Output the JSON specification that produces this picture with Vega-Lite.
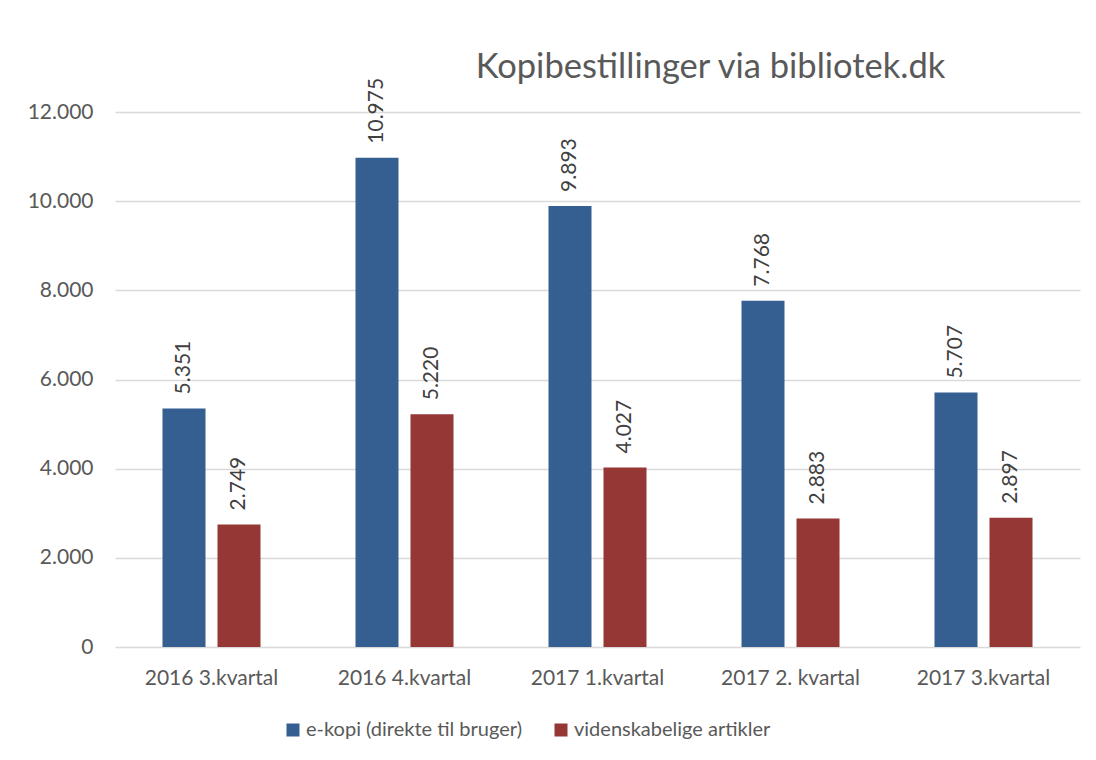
{
  "$schema": "https://vega.github.io/schema/vega-lite/v6.json",
  "width": 965,
  "height": 535,
  "autosize": "none",
  "padding": {"left": 115, "top": 112, "right": 16, "bottom": 113},
  "background": "white",
  "config": {
    "font": "Lato",
    "locale": {"number": {"decimal": ",", "thousands": ".", "grouping": [3], "currency": ["", " kr."]}},
    "view": {"stroke": null},
    "axis": {"labelFont": "Lato", "labelColor": "#595959", "labelFontSize": 21}
  },
  "title": {
    "text": "Kopibestillinger via bibliotek.dk",
    "font": "Lato",
    "fontSize": 34.5,
    "fontWeight": "normal",
    "color": "#595959",
    "anchor": "middle",
    "dx": 113,
    "offset": -8
  },
  "data": {
    "values": [
      {"kvartal": "2016 3.kvartal", "serie": "e-kopi (direkte til bruger)", "value": 5351},
      {"kvartal": "2016 3.kvartal", "serie": "videnskabelige artikler", "value": 2749},
      {"kvartal": "2016 4.kvartal", "serie": "e-kopi (direkte til bruger)", "value": 10975},
      {"kvartal": "2016 4.kvartal", "serie": "videnskabelige artikler", "value": 5220},
      {"kvartal": "2017 1.kvartal", "serie": "e-kopi (direkte til bruger)", "value": 9893},
      {"kvartal": "2017 1.kvartal", "serie": "videnskabelige artikler", "value": 4027},
      {"kvartal": "2017 2. kvartal", "serie": "e-kopi (direkte til bruger)", "value": 7768},
      {"kvartal": "2017 2. kvartal", "serie": "videnskabelige artikler", "value": 2883},
      {"kvartal": "2017 3.kvartal", "serie": "e-kopi (direkte til bruger)", "value": 5707},
      {"kvartal": "2017 3.kvartal", "serie": "videnskabelige artikler", "value": 2897}
    ]
  },
  "encoding": {
    "x": {
      "field": "kvartal",
      "type": "nominal",
      "sort": null,
      "scale": {"paddingInner": 0.43, "paddingOuter": 0.215},
      "axis": {"title": null, "labelAngle": 0, "ticks": false, "domain": false, "labelPadding": 20, "labelBaseline": "top"}
    },
    "xOffset": {
      "field": "serie",
      "type": "nominal",
      "sort": null,
      "scale": {"paddingInner": 0.218, "paddingOuter": 0.109}
    },
    "y": {
      "field": "value",
      "type": "quantitative",
      "scale": {"domain": [0, 12000], "nice": false},
      "axis": {
        "title": null,
        "values": [0, 2000, 4000, 6000, 8000, 10000, 12000],
        "format": ",d",
        "ticks": false,
        "domain": false,
        "labelPadding": 22,
        "gridColor": "#d9d9d9",
        "gridWidth": 1.5
      }
    }
  },
  "layer": [
    {
      "mark": {"type": "bar"},
      "encoding": {
        "color": {
          "field": "serie",
          "type": "nominal",
          "sort": null,
          "scale": {"domain": ["e-kopi (direkte til bruger)", "videnskabelige artikler"], "range": ["#355f91", "#953735"]},
          "legend": {
            "title": null,
            "orient": "none",
            "legendX": 168,
            "legendY": 608,
            "direction": "horizontal",
            "symbolType": "square",
            "symbolSize": 169,
            "symbolStrokeWidth": 0,
            "symbolOpacity": 1,
            "labelFontSize": 20,
            "labelColor": "#595959",
            "labelFont": "Lato",
            "labelLimit": 0,
            "columnPadding": 28,
            "labelOffset": 3,
            "padding": 0
          }
        }
      }
    },
    {
      "mark": {"type": "text", "angle": 270, "align": "left", "baseline": "middle", "dx": 14, "fontSize": 21, "color": "#404040", "font": "Lato"},
      "encoding": {
        "text": {"field": "value", "type": "quantitative", "format": ",d"}
      }
    }
  ]
}
